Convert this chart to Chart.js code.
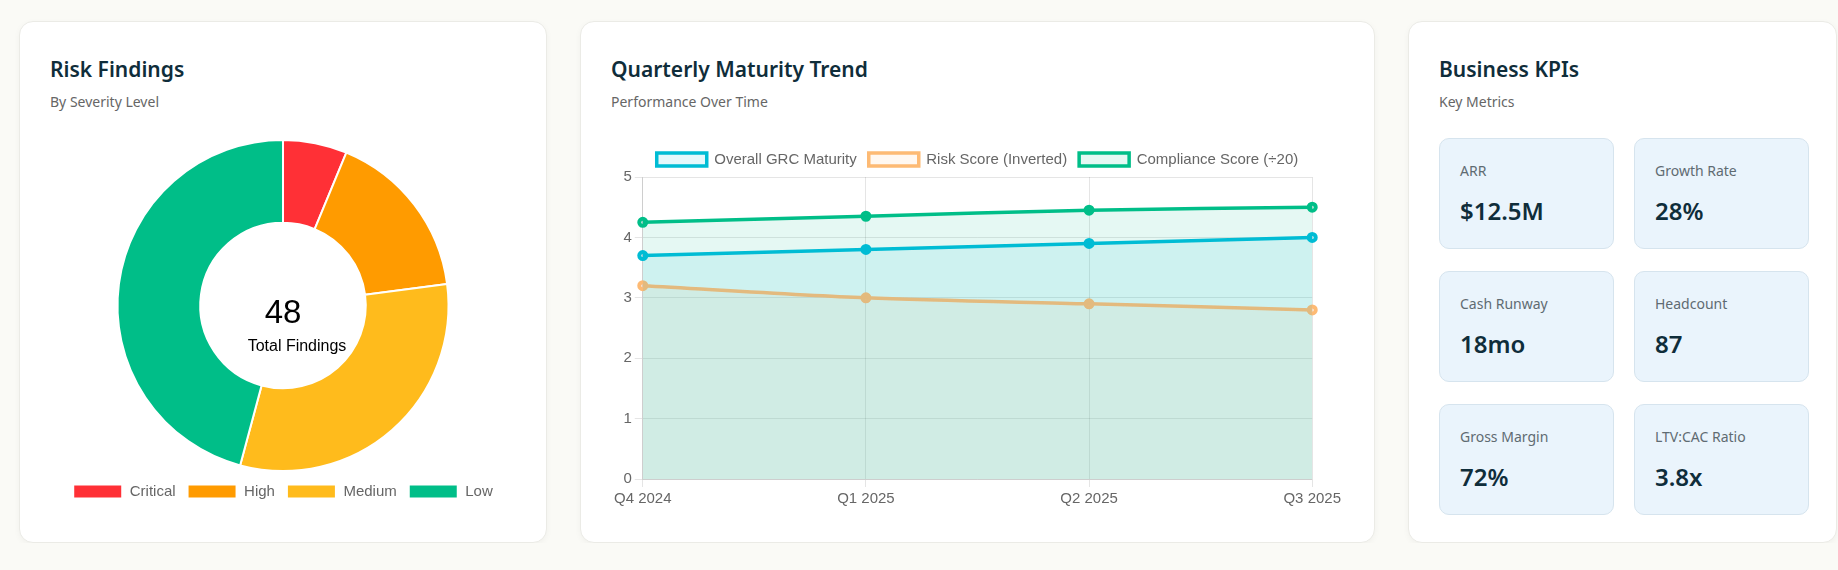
<!DOCTYPE html>
<html>
  <head>
    <title>GRC Dashboard</title>
    <script src="https://cdn.jsdelivr.net/npm/chart.js"></script>
    <style>
      body {
        margin: 0;
        background: #fafaf6;
        font-family: 'Segoe UI', 'Noto Sans', sans-serif;
      }
      .row {
        display: flex;
        gap: 33px;
        padding: 21px 0 0 19px;
      }
      .card {
        box-sizing: border-box;
        height: 522px;
        background: #fff;
        border: 1px solid #ebebe6;
        border-radius: 14px;
        box-shadow: 0 2px 6px rgba(0, 0, 0, 0.04);
        padding: 34px 30px 0 30px;
      }
      .card h2 {
        margin: 0;
        font-size: 21px;
        font-weight: 600;
        line-height: 26px;
        color: #0f2d3a;
      }
      .card .sub {
        margin-top: 10px;
        font-size: 14px;
        line-height: 20px;
        color: #666;
      }
      .chart-box {
        position: relative;
      }
      .kpis {
        display: grid;
        grid-template-columns: 175px 175px;
        grid-auto-rows: 111px;
        column-gap: 20px;
        row-gap: 22px;
        margin-top: 26px;
      }
      .kpi {
        box-sizing: border-box;
        background: #eaf4fc;
        border: 1px solid #d6e4ee;
        border-radius: 10px;
        padding: 22px 20px 0 20px;
      }
      .kpi .label {
        font-size: 14px;
        line-height: 20px;
        color: #5f6b72;
      }
      .kpi .value {
        margin-top: 15px;
        font-size: 24px;
        line-height: 30px;
        font-weight: 600;
        color: #0f2d3a;
      }
    </style>
  </head>

  <body>
    <div class="row">
      <div class="card" style="width: 528px;">
        <h2>Risk Findings</h2>
        <div class="sub">By Severity Level</div>
        <div class="chart-box" style="height: 370px; margin-top: 27px;">
          <canvas id="risk-donut"></canvas>
        </div>
      </div>

      <div class="card" style="width: 795px;">
        <h2>Quarterly Maturity Trend</h2>
        <div class="sub">Performance Over Time</div>
        <div class="chart-box" style="height: 371px; margin-top: 28px;">
          <canvas id="maturity-trend"></canvas>
        </div>
      </div>

      <div class="card" style="width: 429px;">
        <h2>Business KPIs</h2>
        <div class="sub">Key Metrics</div>
        <div class="kpis" id="kpi-grid"></div>
      </div>
    </div>

    <script>
      // Risk findings by severity
      const severityLabels = ['Critical', 'High', 'Medium', 'Low'];
      const severityCounts = [3, 8, 15, 22];
      const severityColors = ['#ff3036', '#ff9b00', '#ffbb1c', '#00be88'];

      // Quarterly maturity trend
      const quarters = ['Q4 2024', 'Q1 2025', 'Q2 2025', 'Q3 2025'];
      const grcMaturity = [3.7, 3.8, 3.9, 4.0];
      const riskScoreInverted = [3.2, 3.0, 2.9, 2.8];
      const complianceScore = [4.25, 4.35, 4.45, 4.5]; // already divided by 20
      const yTicks = [0, 1, 2, 3, 4, 5];

      // Business KPIs
      const kpiNames = ['ARR', 'Growth Rate', 'Cash Runway', 'Headcount', 'Gross Margin', 'LTV:CAC Ratio'];
      const kpiValues = ['$12.5M', '28%', '18mo', '87', '72%', '3.8x'];

      Chart.defaults.font.family = "'Helvetica Neue', Helvetica, Arial, 'Liberation Sans', sans-serif";
      Chart.defaults.color = '#666';

      // total in the middle of the donut
      const centerText = {
        id: 'centerText',
        afterDraw(chart) {
          const meta = chart.getDatasetMeta(0);
          if (!meta.data.length) return;
          const x = meta.data[0].x;
          const y = meta.data[0].y;
          const total = severityCounts.reduce((a, b) => a + b, 0);
          const ctx = chart.ctx;
          ctx.save();
          ctx.fillStyle = '#000';
          ctx.textAlign = 'center';
          ctx.textBaseline = 'middle';
          ctx.font = "33px 'Helvetica Neue', Helvetica, Arial, sans-serif";
          ctx.fillText(String(total), x, y + 8);
          ctx.font = "16px 'Helvetica Neue', Helvetica, Arial, sans-serif";
          ctx.fillText('Total Findings', x + 14, y + 41);
          ctx.restore();
        }
      };

      new Chart(document.getElementById('risk-donut'), {
        type: 'doughnut',
        data: {
          labels: severityLabels,
          datasets: [{
            data: severityCounts,
            backgroundColor: severityColors,
            borderColor: '#fff',
            borderWidth: 2
          }]
        },
        options: {
          responsive: true,
          maintainAspectRatio: false,
          cutout: '50%',
          animation: false,
          plugins: {
            legend: {
              position: 'bottom',
              labels: {
                boxWidth: 49,
                boxHeight: 14,
                padding: 12,
                font: { size: 15 }
              }
            },
            tooltip: { enabled: false }
          }
        },
        plugins: [centerText]
      });

      const lineStyle = {
        borderWidth: 3.5,
        pointRadius: 3.5,
        pointBorderWidth: 4,
        tension: 0.3,
        fill: true
      };

      new Chart(document.getElementById('maturity-trend'), {
        type: 'line',
        data: {
          labels: quarters,
          datasets: [
            Object.assign({
              label: 'Overall GRC Maturity',
              data: grcMaturity,
              borderColor: '#00bcd4',
              backgroundColor: 'rgba(0, 188, 212, 0.1)'
            }, lineStyle),
            Object.assign({
              label: 'Risk Score (Inverted)',
              data: riskScoreInverted,
              borderColor: '#fdba74',
              backgroundColor: 'rgba(253, 186, 116, 0.1)'
            }, lineStyle),
            Object.assign({
              label: 'Compliance Score (÷20)',
              data: complianceScore,
              borderColor: '#00be88',
              backgroundColor: 'rgba(0, 190, 136, 0.1)'
            }, lineStyle)
          ]
        },
        options: {
          responsive: true,
          maintainAspectRatio: false,
          animation: false,
          layout: { padding: { top: 0 } },
          plugins: {
            legend: {
              position: 'top',
              labels: {
                boxWidth: 50,
                boxHeight: 13,
                padding: 12,
                font: { size: 15 }
              }
            },
            tooltip: { enabled: false }
          },
          scales: {
            y: {
              min: yTicks[0],
              max: yTicks[yTicks.length - 1],
              ticks: { stepSize: 1, font: { size: 15 } }
            },
            x: {
              ticks: { font: { size: 15 } }
            }
          }
        }
      });

      // KPI tiles
      const grid = document.getElementById('kpi-grid');
      kpiNames.forEach((name, i) => {
        const tile = document.createElement('div');
        tile.className = 'kpi';
        tile.innerHTML = '<div class="label">' + name + '</div><div class="value">' + kpiValues[i] + '</div>';
        grid.appendChild(tile);
      });
    </script>
  </body>
</html>
